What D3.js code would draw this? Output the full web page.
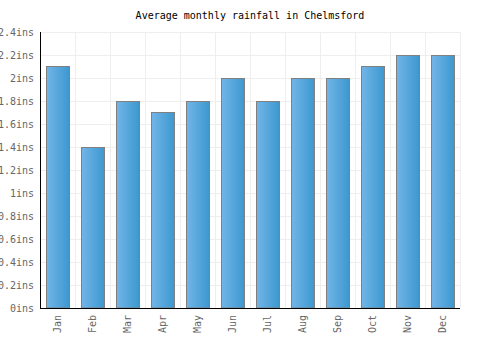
<html>
<head>
<script src="https://d3js.org/d3.v7.min.js"></script>
<style>
  body { margin: 0; background: #fff; }
  .grid line { stroke: #eee; }
  .grid .domain { stroke: none; }
  text { font-family: "DejaVu Sans Mono", monospace; }
</style>
</head>
<body>
<svg id="chart" width="500" height="350"></svg>
<script>
const months = ["Jan", "Feb", "Mar", "Apr", "May", "Jun", "Jul", "Aug", "Sep", "Oct", "Nov", "Dec"];
const rainfall = [2.1, 1.4, 1.8, 1.7, 1.8, 2.0, 1.8, 2.0, 2.0, 2.1, 2.2, 2.2];
const yTicks = [0, 0.2, 0.4, 0.6, 0.8, 1, 1.2, 1.4, 1.6, 1.8, 2, 2.2, 2.4];

const svg = d3.select("svg#chart");
const margin = { top: 32, right: 40, bottom: 42, left: 40 };
const chartWidth = 500 - margin.left - margin.right;
const chartHeight = 350 - margin.top - margin.bottom;

const defs = svg.append("defs");
const grad = defs.append("linearGradient").attr("id", "barGrad")
    .attr("x1", "0%").attr("x2", "100%").attr("y1", "0%").attr("y2", "0%");
grad.append("stop").attr("offset", "0%").attr("stop-color", "#72b5e8");
grad.append("stop").attr("offset", "100%").attr("stop-color", "#3c98cf");

const x = d3.scaleBand().domain(months).range([0, chartWidth]).paddingInner(0.34).paddingOuter(0.17);
const y = d3.scaleLinear().domain([0, 2.4]).range([chartHeight, 0]);

const g = svg.append("g").attr("transform", `translate(${margin.left},${margin.top})`);

// gridlines
g.append("g").attr("class", "grid")
    .call(d3.axisLeft(y).tickValues(yTicks).tickSize(-chartWidth).tickFormat(""));
const bounds = d3.range(1, months.length + 1).map(i => i * chartWidth / months.length);
g.append("g").attr("class", "grid").selectAll("line")
    .data(bounds).join("line")
    .attr("x1", d => Math.round(d) + 0.5).attr("x2", d => Math.round(d) + 0.5)
    .attr("y1", 0).attr("y2", chartHeight);

// bars
g.selectAll("rect.bar")
    .data(months.map((m, i) => ({ m, v: rainfall[i] })))
    .join("rect")
    .attr("class", "bar")
    .attr("x", d => Math.round(x(d.m)) + 0.5)
    .attr("y", d => Math.round(y(d.v)) + 0.5)
    .attr("width", Math.round(x.bandwidth()))
    .attr("height", d => chartHeight - Math.round(y(d.v)) - 0.5)
    .attr("fill", "url(#barGrad)")
    .attr("stroke", "#808080")
    .attr("stroke-width", 1);

// axes
const yAxis = g.append("g").call(d3.axisLeft(y).tickValues(yTicks).tickSize(0).tickPadding(6).tickFormat(d => d3.format("~g")(d) + "ins"));
yAxis.select(".domain").attr("stroke", "#000").attr("d", `M0.5,0V${chartHeight}`);
yAxis.selectAll("text").attr("fill", "#666").style("font-size", "10px");

const xAxis = g.append("g").attr("transform", `translate(0,${chartHeight})`)
    .call(d3.axisBottom(x).tickSize(0));
xAxis.select(".domain").attr("stroke", "#000").attr("d", `M0,0.5H${chartWidth}`);
xAxis.selectAll("text")
    .attr("fill", "#666")
    .style("font-size", "10px")
    .attr("transform", "rotate(-90)")
    .attr("text-anchor", "end")
    .attr("x", -7)
    .attr("y", 0)
    .attr("dy", "0.35em");

svg.append("text")
    .attr("x", 250).attr("y", 19)
    .attr("text-anchor", "middle")
    .style("font-size", "10px")
    .attr("fill", "#000")
    .text("Average monthly rainfall in Chelmsford");
</script>
</body>
</html>
